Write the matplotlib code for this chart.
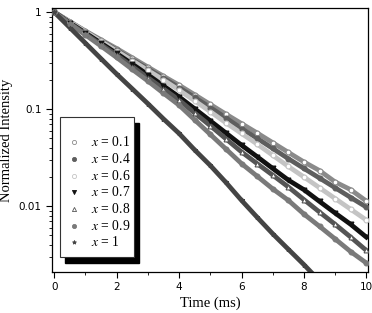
import matplotlib
matplotlib.use("Agg")
import matplotlib.pyplot as plt
from matplotlib.patches import Rectangle
from matplotlib.ticker import NullFormatter, LogLocator

plt.rcParams["mathtext.fontset"] = "stix"

t = [0.0, 0.5, 1.0, 1.5, 2.0, 2.5, 3.0, 3.5, 4.0, 4.5, 5.0,
     5.5, 6.0, 6.5, 7.0, 7.5, 8.0, 8.5, 9.0, 9.5, 10.0]

I_01 = [1, 0.80, 0.64, 0.519, 0.422, 0.339, 0.272, 0.219, 0.177, 0.141, 0.112,
        0.089, 0.0711, 0.0569, 0.0452, 0.0359, 0.0286, 0.0233, 0.0178, 0.0148, 0.0113]
I_04 = [1, 0.794, 0.631, 0.507, 0.406, 0.324, 0.260, 0.209, 0.167, 0.132, 0.104,
        0.0813, 0.0632, 0.0501, 0.0394, 0.0309, 0.0245, 0.0195, 0.0155, 0.0123, 0.0098]
I_06 = [1, 0.794, 0.631, 0.501, 0.398, 0.316, 0.251, 0.200, 0.157, 0.122, 0.0944,
        0.0724, 0.0562, 0.0437, 0.0335, 0.0257, 0.0200, 0.0155, 0.0120, 0.0093, 0.0072]
I_07 = [1, 0.776, 0.610, 0.479, 0.375, 0.292, 0.226, 0.174, 0.134, 0.101, 0.0759,
        0.0569, 0.0426, 0.0324, 0.0245, 0.0186, 0.0148, 0.0112, 0.0085, 0.0065, 0.0048]
I_08 = [1, 0.767, 0.596, 0.462, 0.361, 0.275, 0.211, 0.162, 0.124, 0.0912, 0.0676,
        0.0495, 0.0363, 0.0275, 0.0209, 0.0158, 0.0117, 0.0087, 0.0065, 0.0048, 0.0035]
I_09 = [1, 0.759, 0.582, 0.447, 0.341, 0.257, 0.195, 0.146, 0.110, 0.0776, 0.0550,
        0.0389, 0.0275, 0.0204, 0.0151, 0.0115, 0.0083, 0.0062, 0.0046, 0.0034, 0.0026]
t_1 = [0.0, 0.5, 1.0, 1.5, 2.0, 2.5, 3.0, 3.5, 4.0, 4.5, 5.0,
       5.5, 6.0, 6.5, 7.0, 7.5, 8.0, 8.5, 9.0]
I_1 = [1, 0.692, 0.479, 0.331, 0.230, 0.162, 0.114, 0.0794, 0.0562, 0.0380, 0.0263,
       0.0176, 0.0115, 0.0077, 0.0052, 0.0036, 0.0025, 0.0017, 0.0012]

labels = ["0.1", "0.4", "0.6", "0.7", "0.8", "0.9", "1"]

series = [
    (t, I_01, "#8a8a8a", "o", "none"),
    (t, I_04, "#5e5e5e", "o", "full"),
    (t, I_06, "#c4c4c4", "o", "none"),
    (t, I_07, "#111111", "v", "full"),
    (t, I_08, "#555555", "^", "none"),
    (t, I_09, "#7a7a7a", "o", "full"),
    (t_1, I_1, "#444444", "*", "full"),
]

fig = plt.figure(figsize=(3.72, 3.13), dpi=100)
ax = fig.add_axes([0.140, 0.131, 0.849, 0.843])

for (tt, yy, c, m, fs) in series:
    ax.plot(tt, yy, color=c, lw=3.4, solid_capstyle="round", zorder=2)
    ax.plot(tt, yy, linestyle="none", marker=m, ms=3.5, color=c,
            mfc=("white" if fs == "none" else c), mec=c, mew=0.8, zorder=3)

ax.set_yscale("log")
ax.set_xlim(-0.07, 10.05)
ax.set_ylim(0.0021, 1.1)
ax.set_xticks([0, 2, 4, 6, 8, 10])
ax.set_xticks([1, 3, 5, 7, 9], minor=True)
ax.set_yticks([1, 0.1, 0.01])
ax.set_yticklabels(["1", "0.1", "0.01"])
ax.yaxis.set_minor_locator(LogLocator(base=10, subs=range(2, 10)))
ax.yaxis.set_minor_formatter(NullFormatter())
ax.tick_params(axis="both", which="major", direction="out", length=4, width=0.8,
               labelsize=7.5)
ax.tick_params(axis="both", which="minor", direction="out", length=2.5, width=0.6)
for sp in ax.spines.values():
    sp.set_linewidth(0.9)

ax.set_xlabel("Time (ms)", family="Liberation Serif", fontsize=10.5, labelpad=3)
ax.set_ylabel("Normalized Intensity", family="Liberation Serif", fontsize=10.5, labelpad=4)

# legend box with black drop shadow
bx0, by0, bx1, by1 = 0.026, 0.058, 0.2603, 0.586
dx, dy = 0.0158, 0.0227
ax.add_patch(Rectangle((bx0 + dx, by0 - dy), bx1 - bx0, by1 - by0,
                       transform=ax.transAxes, facecolor="black",
                       edgecolor="black", zorder=5, clip_on=False))
ax.add_patch(Rectangle((bx0, by0), bx1 - bx0, by1 - by0,
                       transform=ax.transAxes, facecolor="white",
                       edgecolor="#333333", lw=0.8, zorder=6, clip_on=False))
row_top, row_step = 0.4915, (0.4915 - 0.1125) / 6
for i, ((tt, yy, c, m, fs), lab) in enumerate(zip(series, labels)):
    yy_ax = row_top - i * row_step
    ax.plot([0.0700], [yy_ax], transform=ax.transAxes, linestyle="none",
            marker=m, ms=3, color=c, mfc=("white" if fs == "none" else c),
            mec=c, mew=0.6, zorder=7, clip_on=False)
    ax.text(0.1240, yy_ax, r"$x$" + " = " + lab, transform=ax.transAxes,
            family="Liberation Serif", fontsize=9.8, va="center", ha="left",
            zorder=7)

fig.savefig("out.png", dpi=100)
